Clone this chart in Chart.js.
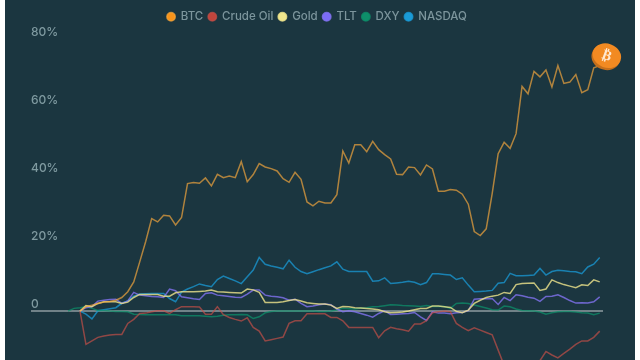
<!DOCTYPE html>
<html>
<head>
<meta charset="utf-8">
<style>
  body { margin: 0; background: #fff; }
  #wrap { position: absolute; left: 5px; top: 0; width: 630px; height: 360px; background: #1b3640; }
</style>
<script src="https://cdn.jsdelivr.net/npm/chart.js@4/dist/chart.umd.min.js"></script>
</head>
<body>
<div id="wrap"><canvas id="chart" width="630" height="360"></canvas></div>
<script>
// values in percent, first two slots only DXY has data
const days = [-2,-1,0,1,2,3,4,5,6,7,8,9,10,11,12,13,14,15,16,17,18,19,20,21,22,23,24,25,26,27,28,29,30,31,32,33,34,35,36,37,38,39,40,41,42,43,44,45,46,47,48,49,50,51,52,53,54,55,56,57,58,59,60,61,62,63,64,65,66,67,68,69,70,71,72,73,74,75,76,77,78,79,80,81,82,83,84,85,86,87];
const seriesNames = ["BTC", "Crude Oil", "Gold", "TLT", "DXY", "NASDAQ"];
const yTicks = [0, 20, 40, 60, 80];

const btc = [null,null,
  0,1.3,1.76,2.25,2.64,2.84,3.2,4,5.7,8.6,
  14.5,20.5,27.25,26.27,28.23,28.04,25.39,27.55,37.55,37.84,
  37.64,39.21,36.86,40.29,39.31,39.8,39.31,44.02,38.13,40.2,
  43.43,42.45,41.96,41.27,39,37.94,40.88,38.82,32.15,30.97,
  32.35,31.86,31.86,34.3,47.16,43.63,49.02,49.02,46.96,50,
  47.55,46.08,44.81,40.3,40.2,42.46,42.26,40.1,43.04,41.87,
  35.3,35.3,35.79,35.6,34.42,31.48,23.44,22.26,24.22,34.6,
  46.38,49.71,47.95,52.26,66.18,64,70.6,69,71,66,
  72.35,67.06,67.45,69.7,64.3,65.2,71.67,72.3];
const crude = [null,null,
  0,-9.8,-8.8,-7.75,-7.35,-7.06,-6.87,-6.87,-3.63,-2.45,
  -0.69,-0.6,-0.2,0.1,0.1,-0.7,0.4,1.3,1.3,1.3,
  1.2,-0.9,-0.9,1.3,-1.08,-1.87,-2.45,-2.94,-1.96,-4.8,
  -5.9,-8.8,-8.43,-8.04,-7.65,-3.63,-2.85,-2.85,-0.8,-0.8,
  -0.8,-0.8,-1.87,-1.87,-2.85,-4.8,-4.8,-4.8,-4.8,-4.8,
  -7.85,-5.8,-4.8,-5.2,-5.5,-5.9,-3.8,-3.8,-2.85,-0.5,
  -0.2,0,-0.2,-3.63,-4.8,-5.8,-4.9,-5.6,-6.3,-7,
  -11.5,-16,-17.5,-18.5,-19,-18.5,-17,-14.6,-11.9,-12.94,
  -13.8,-12.45,-11.2,-9.8,-8.8,-8.8,-7.75,-5.9];
const gold = [null,null,
  0,1.6,1.3,2.25,2.74,2.74,2.74,2.25,2.64,4,
  4.9,4.9,4.9,4.9,4.4,4.4,5.4,5.7,5.7,5.7,
  5.8,5.9,6.2,5.7,5.6,5.5,5.4,5.3,6.5,6.25,
  5.5,2.55,2.55,2.55,2.74,3.1,3.4,2.94,2.45,2.25,
  2.06,2.06,1.76,0.78,1.37,1.27,1,0.88,0.78,0.6,
  0.4,-0.2,-0.5,-0.4,-0.3,0,0.4,0.78,0.78,1.47,
  1.47,1.3,1.08,-0.1,-0.5,0.3,2.25,3.2,4,4.4,
  4.7,5.5,5.2,7.8,8.1,8.2,8.3,6.1,6.5,9.2,
  8.4,7.8,7.35,6.9,7.75,7.55,9.2,8.6];
const tlt = [null,null,
  0,1,1.3,2.94,3.2,3.4,3.5,2.25,3,5.5,
  4.7,4.5,4.3,4.2,4,6.5,6,4.2,3.9,3.6,
  3.4,5.2,5.4,4.7,4.5,4.3,4.1,4,5,6.2,
  6.2,4.7,4.4,4.2,3.9,3.2,3.5,2.25,1.27,1.47,
  1.86,2.06,1.86,0.6,-0.2,0.1,-0.2,-0.7,-1.2,-1.8,
  -0.7,0.1,-1,-0.9,-0.8,-0.7,-0.4,-1.7,-2.75,-0.2,
  -0.6,-0.6,-0.8,-0.5,-0.4,0.1,3.5,3.6,3.6,3.7,
  1.96,4,3.1,4.8,4.5,4.1,3.8,2.84,4.3,4.4,
  4.8,4,3.1,2.35,2.45,2.35,2.74,4.2];
const dxy = [0,0.8,
  1,1.3,0.8,0.2,0.2,0,-0.1,-0.1,-0.2,-0.9,
  -1,-1.1,-1.1,-1.1,-1.1,-1.1,-1.1,-1.4,-1.4,-1.4,
  -1.4,-1.5,-1.67,-1.5,-1.2,-1.1,-1.1,-1,-1.1,-2.2,
  -1.67,-0.5,-0.1,0,0,0,0,0,0,0,
  -0.1,-0.1,0,0.3,0.8,0.7,0.6,0.8,1,1.3,
  1.37,1.6,1.86,1.76,1.66,1.6,1.47,1.37,1.66,1.37,
  1.37,1.37,0.8,2.25,2.35,2.25,1.76,1.37,0.9,0.4,
  0.3,1.47,1.27,0.6,0.2,0.1,0,-0.3,-0.9,-0.5,
  -0.2,-0.1,-0.1,-0.3,-0.5,-0.6,-1.1,-0.6];
const nasdaq = [null,null,
  0,-0.9,-2.3,0.1,0.4,0.7,1,2.3,3,4.4,
  5,5.1,5.2,5.2,5.2,3.7,2.74,5.6,6.5,7.2,
  8,7.55,7.2,9.3,10.3,9.6,8.9,8.1,10.1,12.1,
  15.8,13.8,13.3,12.9,12.45,15,12.9,11.66,11,11.6,
  12.2,12.75,13.3,14.5,12.35,11.66,11.66,11.66,11.66,8.8,
  8.9,9.8,8.1,8.3,8.5,8.8,8.5,7.75,8.4,11,
  11,10.8,10.6,9.3,9.8,7.65,5.7,5.8,5.9,6.1,
  8.2,8.4,11.1,10.4,10.4,10.5,10.6,12.55,10.6,11.66,
  12,11.86,11.66,11.6,11,13,13.8,15.8];

const solidColors = ["#f7931a", "#c0453c", "#f0e68c", "#7b6cf6", "#0e8f6a", "#1a9bd7"];
const lineColors = [
  "rgba(247,168,60,0.68)", "rgba(200,80,72,0.68)", "rgba(240,230,140,0.8)",
  "rgba(130,115,240,0.8)", "rgba(14,143,106,0.75)", "rgba(26,155,215,0.75)"
];
const allSeries = [btc, crude, gold, tlt, dxy, nasdaq];

const datasets = seriesNames.map((name, s) => ({
  label: name,
  data: days.map((d, i) => ({ x: d, y: allSeries[s][i] })),
  borderColor: lineColors[s],
  backgroundColor: solidColors[s],
  borderWidth: 1.5,
  pointRadius: 0,
  tension: 0
}));

// the coin sits on the end of the BTC line
const coinPlugin = {
  id: "coin",
  afterDatasetsDraw(chart) {
    const pts = chart.getDatasetMeta(0).data;
    const end = pts[pts.length - 1];
    const ctx = chart.ctx;
    ctx.save();
    ctx.translate(end.x + 7, end.y - 9.5);
    ctx.rotate(0.35);
    ctx.fillStyle = "#c46f1c";
    ctx.beginPath();
    ctx.ellipse(-0.5, 1.5, 14.5, 12.5, 0, 0, Math.PI * 2);
    ctx.fill();
    ctx.fillStyle = "#f28a22";
    ctx.beginPath();
    ctx.ellipse(0, -0.5, 14.5, 12, 0, 0, Math.PI * 2);
    ctx.fill();
    ctx.fillStyle = "#ffe9d2";
    ctx.font = "bold 14px 'DejaVu Sans'";
    ctx.textAlign = "center";
    ctx.textBaseline = "middle";
    ctx.fillText("₿", 0, 0);
    ctx.restore();
  }
};

new Chart(document.getElementById("chart"), {
  type: "line",
  data: { datasets },
  plugins: [coinPlugin],
  options: {
    responsive: false,
    animation: false,
    layout: { padding: { left: 26, right: 32, top: 6, bottom: 0 } },
    plugins: {
      tooltip: { enabled: false },
      legend: {
        position: "top",
        labels: {
          usePointStyle: true,
          pointStyle: "circle",
          boxWidth: 8,
          boxHeight: 6,
          padding: 5,
          color: "#7c959c",
          font: { family: "Inter", size: 11.5, weight: 500 }
        }
      }
    },
    scales: {
      x: { type: "linear", display: false, min: -8.2, max: 87.55 },
      y: {
        min: -14.41,
        max: 82.06,
        afterBuildTicks: (axis) => { axis.ticks = yTicks.map((v) => ({ value: v })); },
        // no half-label room at the ends, the lines run to the bottom edge
        afterFit: (axis) => { axis.paddingTop = 0; axis.paddingBottom = 0; },
        border: { display: false },
        grid: {
          drawTicks: false,
          lineWidth: 2,
          color: (c) => (c.tick.value === 0 ? "rgba(255,255,255,0.38)" : "transparent")
        },
        ticks: {
          mirror: true,
          padding: 0,
          labelOffset: -7,
          color: "#7f9aa0",
          font: { family: "Inter", size: 12, weight: 500 },
          callback: (v) => (v === 0 ? "0" : v + "%")
        }
      }
    }
  }
});
</script>
</body>
</html>
